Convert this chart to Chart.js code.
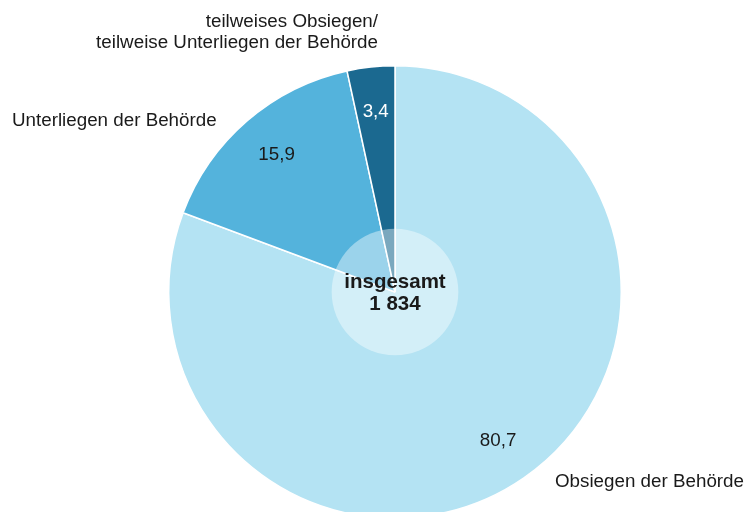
<!DOCTYPE html>
<html><head><meta charset="utf-8">
<script src="https://cdn.jsdelivr.net/npm/chart.js@4/dist/chart.umd.min.js"></script>
<style>html,body{margin:0;padding:0;background:#fff;overflow:hidden}#wrap{width:748px;height:540px}</style>
</head><body><div id="wrap"><canvas id="c" width="748" height="540"></canvas></div>
<script>
const categories = ["Obsiegen der Behörde", "Unterliegen der Behörde", "teilweises Obsiegen/\nteilweise Unterliegen der Behörde"];
const values = [80.7, 15.9, 3.4];
const valueLabels = ["80,7", "15,9", "3,4"];
const colors = ["#b4e3f3", "#54b3dc", "#1b6990"];
const labelColors = ["#1a1a1a", "#1a1a1a", "#ffffff"];
const centerTitle = "insgesamt";
const centerTotal = "1 834";

const FONT = '"Liberation Sans", Arial, Helvetica, sans-serif';

const overlay = {
  id: 'overlay',
  afterDatasetsDraw(chart) {
    const ctx = chart.ctx;
    const meta = chart.getDatasetMeta(0);
    const arc0 = meta.data[0];
    const cx = arc0.x, cy = arc0.y, R = arc0.outerRadius;
    // value labels
    ctx.save();
    ctx.font = '18.8px ' + FONT;
    ctx.textAlign = 'center';
    ctx.textBaseline = 'middle';
    meta.data.forEach((a, i) => {
      const mid = (a.startAngle + a.endAngle) / 2;
      const r = R * 0.8;
      ctx.fillStyle = labelColors[i];
      ctx.fillText(valueLabels[i], cx + Math.cos(mid) * r, cy + Math.sin(mid) * r);
    });
    // center circle
    ctx.beginPath();
    ctx.arc(cx, cy, R * 0.28, 0, Math.PI * 2);
    ctx.fillStyle = 'rgba(255,255,255,0.42)';
    ctx.fill();
    ctx.fillStyle = '#1a1a1a';
    ctx.font = 'bold 20.5px ' + FONT;
    ctx.fillText(centerTitle, cx, cy - 10);
    ctx.fillText(centerTotal, cx, cy + 12);
    // category labels
    ctx.font = '18.8px ' + FONT;
    ctx.fillStyle = '#1a1a1a';
    ctx.textAlign = 'left';
    ctx.fillText(categories[0], 555, 482);
    ctx.fillText(categories[1], 12, 121);
    ctx.textAlign = 'right';
    const lines = categories[2].split('\n');
    ctx.fillText(lines[0], 378, 22);
    ctx.fillText(lines[1], 378, 43);
    ctx.restore();
  }
};

new Chart(document.getElementById('c'), {
  type: 'pie',
  data: {
    labels: categories,
    datasets: [{
      data: values,
      backgroundColor: colors,
      borderColor: '#ffffff',
      borderWidth: 1.5,
      hoverOffset: 0,
      offset: 0
    }]
  },
  options: {
    responsive: false,
    animation: false,
    events: [],
    layout: { padding: { left: 168, right: 126, top: 65, bottom: 21 } },
    plugins: { legend: { display: false }, tooltip: { enabled: false } }
  },
  plugins: [overlay]
});
</script></body></html>
